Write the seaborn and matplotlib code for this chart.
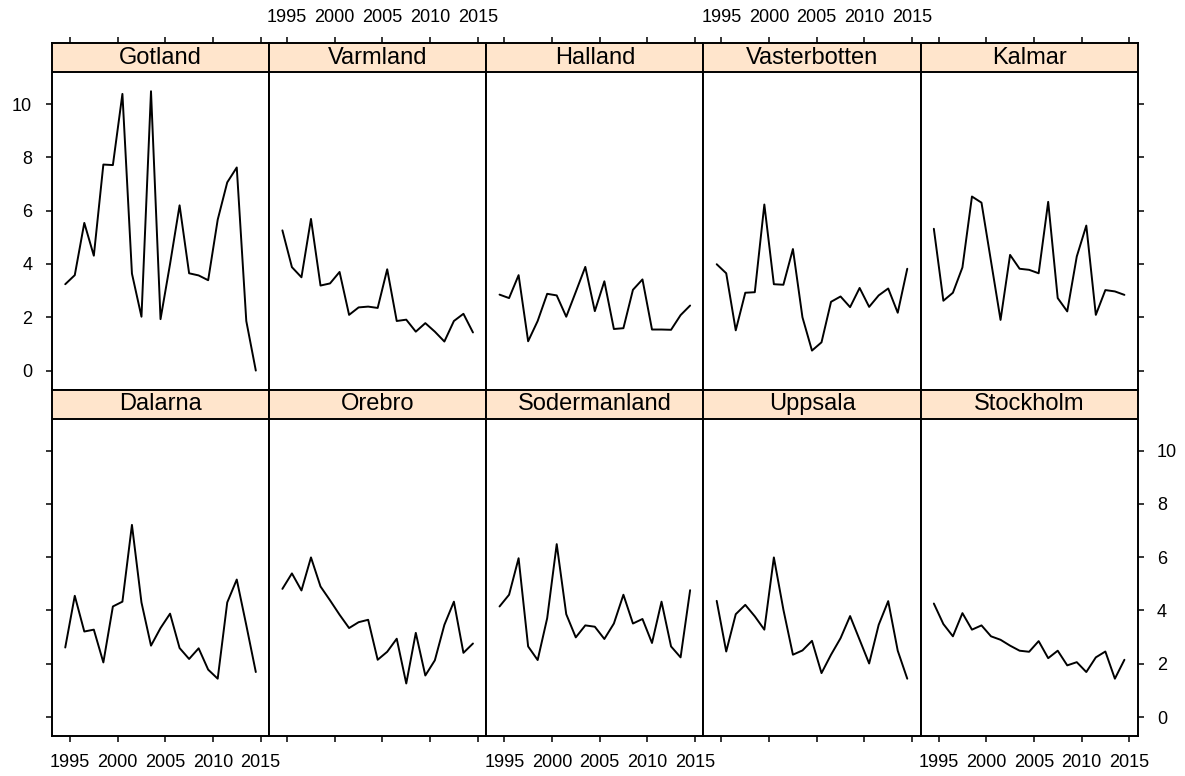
import numpy as np
import pandas as pd
import matplotlib
matplotlib.use("Agg")
import matplotlib.pyplot as plt
import seaborn as sns

sns.set_style("white")
plt.rcParams["font.family"] = ["Liberation Sans", "DejaVu Sans"]

# Annual observations, one series per county (1994-2014)
years = [1994, 1995, 1996, 1997, 1998, 1999, 2000, 2001, 2002, 2003, 2004,
         2005, 2006, 2007, 2008, 2009, 2010, 2011, 2012, 2013, 2014]

gotland = [3.24, 3.58, 5.54, 4.31, 7.73, 7.71, 10.38, 3.64, 2.02, 10.48, 1.93,
           4.00, 6.20, 3.65, 3.57, 3.39, 5.66, 7.06, 7.62, 1.86, 0.00]
varmland = [5.26, 3.88, 3.50, 5.69, 3.19, 3.27, 3.70, 2.09, 2.37, 2.40, 2.35,
            3.80, 1.86, 1.91, 1.46, 1.78, 1.46, 1.09, 1.86, 2.13, 1.43]
halland = [2.85, 2.72, 3.58, 1.10, 1.86, 2.88, 2.82, 2.02, 2.95, 3.89, 2.23,
           3.35, 1.56, 1.59, 3.03, 3.42, 1.54, 1.54, 1.53, 2.08, 2.44]
vasterbotten = [3.99, 3.65, 1.51, 2.92, 2.94, 6.23, 3.24, 3.22, 4.56, 2.00, 0.75,
                1.06, 2.58, 2.78, 2.38, 3.10, 2.39, 2.82, 3.08, 2.17, 3.82]
kalmar = [5.32, 2.62, 2.92, 3.87, 6.53, 6.30, 4.10, 1.90, 4.34, 3.82, 3.78,
          3.65, 6.33, 2.72, 2.22, 4.28, 5.44, 2.09, 3.02, 2.97, 2.84]
dalarna = [2.61, 4.55, 3.21, 3.28, 2.05, 4.15, 4.33, 7.21, 4.30, 2.68, 3.34,
           3.88, 2.59, 2.18, 2.58, 1.78, 1.44, 4.30, 5.16, 3.45, 1.69]
orebro = [4.81, 5.39, 4.75, 5.99, 4.90, 4.38, 3.84, 3.34, 3.56, 3.65, 2.15,
          2.45, 2.94, 1.26, 3.16, 1.56, 2.13, 3.46, 4.33, 2.41, 2.76]
sodermanland = [4.15, 4.59, 5.96, 2.65, 2.14, 3.71, 6.49, 3.86, 2.99, 3.44, 3.39,
                2.93, 3.51, 4.59, 3.51, 3.68, 2.78, 4.33, 2.65, 2.24, 4.76]
uppsala = [4.36, 2.46, 3.86, 4.21, 3.78, 3.28, 5.99, 4.03, 2.34, 2.50, 2.86,
           1.65, 2.34, 2.96, 3.79, 2.90, 2.01, 3.46, 4.35, 2.49, 1.44]
stockholm = [4.26, 3.49, 3.03, 3.90, 3.28, 3.44, 3.03, 2.90, 2.68, 2.49, 2.45,
             2.85, 2.21, 2.49, 1.94, 2.06, 1.69, 2.24, 2.46, 1.44, 2.15]

counties = ["Gotland", "Varmland", "Halland", "Vasterbotten", "Kalmar",
            "Dalarna", "Orebro", "Sodermanland", "Uppsala", "Stockholm"]
series = [gotland, varmland, halland, vasterbotten, kalmar,
          dalarna, orebro, sodermanland, uppsala, stockholm]

x_ticks = [1995, 2000, 2005, 2010, 2015]
y_ticks = [0, 2, 4, 6, 8, 10]

frames = []
for name, vals in zip(counties, series):
    frames.append(pd.DataFrame({"county": name,
                                # observations sit at mid-year
                                "time": np.array(years) + 0.5,
                                "value": vals}))
df = pd.concat(frames, ignore_index=True)

W, H = 1185, 776
fig = plt.figure(figsize=(W / 100, H / 100), dpi=100)

col_left = 52.0
col_w = 217.15
row_tops = [43.0, 389.5]
row_h = 346.5
xlim = (1993.11, 2015.90)
ylim = (-0.71, 12.29)
strip_bottom = 11.20
strip_color = "#FFE5CC"
lw = 1.4
fs_tick = 13
fs_strip = 17

for i, name in enumerate(counties):
    r, c = divmod(i, 5)
    left = (col_left + c * col_w) / W
    bottom = 1 - (row_tops[r] + row_h) / H
    ax = fig.add_axes([left, bottom, col_w / W, row_h / H])
    sub = df[df["county"] == name]
    sns.lineplot(data=sub, x="time", y="value", ax=ax, color="black",
                 linewidth=lw, estimator=None, legend=False)
    ax.set_xlim(*xlim)
    ax.set_ylim(*ylim)
    ax.set_xlabel("")
    ax.set_ylabel("")
    ax.grid(False)

    # strip with the county name
    ax.axhspan(strip_bottom, ylim[1], color=strip_color, zorder=0, lw=0)
    ax.axhline(strip_bottom, color="black", lw=lw, zorder=3)
    ax.text(0.5, (strip_bottom + ylim[1]) / 2, name, transform=ax.get_yaxis_transform(),
            ha="center", va="center", fontsize=fs_strip, color="black")

    for sp in ax.spines.values():
        sp.set_visible(True)
        sp.set_color("black")
        sp.set_linewidth(lw)

    ax.set_xticks(x_ticks)
    ax.set_yticks(y_ticks)
    ax.set_xticklabels([str(t) for t in x_ticks])
    ax.set_yticklabels([str(t) for t in y_ticks])

    top_row = r == 0
    ax.tick_params(axis="x", which="both", direction="out", length=4.3, width=1.1,
                   colors="black", labelsize=fs_tick, pad=7.6 if top_row else 8.6,
                   top=top_row, bottom=not top_row,
                   labeltop=top_row and c in (1, 3),
                   labelbottom=(not top_row) and c in (0, 2, 4))
    ax.tick_params(axis="y", which="both", direction="out", length=4.3, width=1.1,
                   colors="black", labelsize=fs_tick, pad=10 if c == 0 else 9.4,
                   left=c == 0, right=c == 4,
                   labelleft=(c == 0 and top_row),
                   labelright=(c == 4 and not top_row))

fig.savefig("out.png", dpi=100, facecolor="white")
